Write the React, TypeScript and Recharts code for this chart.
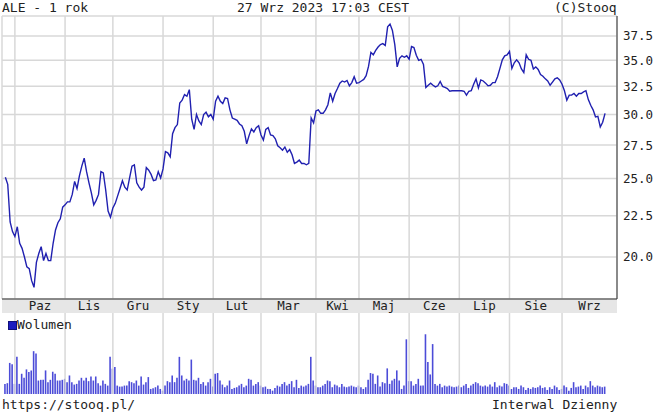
import { LineChart, Line, BarChart, Bar, XAxis, YAxis, CartesianGrid, ReferenceLine } from 'recharts'

// ALE daily close, 27.09.2022 - 27.09.2023 (one value per session)
const closes = [
  25.1, 24.6, 22.1, 21.5, 21.2, 21.8, 20.8, 20.5, 20.0, 19.45, 19.35, 18.7, 18.35, 19.7, 20.2, 20.6, 19.8, 20.2, 19.8, 19.8,
  20.8, 21.6, 22.05, 22.3, 23.05, 23.2, 23.4, 23.4, 23.9, 24.8, 24.3, 25.2, 25.9, 26.5, 25.5, 24.7, 24.0, 23.2, 23.5, 23.9,
  25.5, 25.4, 24.2, 22.8, 22.4, 23.0, 23.3, 23.8, 24.3, 24.85, 24.4, 24.2, 25.05, 25.9, 26.0, 24.7, 24.4, 24.2, 24.4, 25.8,
  25.6, 25.3, 24.85, 24.9, 25.5, 25.05, 25.7, 27.0, 26.9, 26.6, 28.4, 28.9, 29.15, 31.0, 31.25, 31.75, 31.6, 32.2, 29.6, 28.75,
  30.0, 29.45, 29.15, 30.0, 30.2, 29.8, 30.0, 29.6, 31.15, 31.6, 31.15, 30.95, 31.45, 31.4, 30.4, 29.7, 29.6, 29.5, 29.2, 29.05,
  28.6, 27.6, 28.25, 28.8, 28.55, 28.9, 29.05, 28.3, 27.9, 28.75, 28.9, 28.3, 28.25, 28.0, 27.45, 27.3, 27.1, 27.35, 26.95, 27.15,
  26.75, 26.1, 26.2, 26.35, 26.1, 26.1, 26.0, 26.1, 29.7, 29.3, 30.3, 30.4, 30.1, 30.1, 30.4, 30.85, 31.9, 31.15, 31.85, 32.3,
  32.8, 33.0, 32.9, 33.05, 32.55, 32.85, 33.4, 32.8, 32.85, 33.0, 33.15, 33.5, 34.4, 35.8, 35.55, 36.0, 36.35, 36.6, 36.7, 36.5,
  38.5, 38.8, 38.1, 36.6, 34.35, 35.2, 35.45, 35.3, 35.45, 35.1, 36.4, 36.3, 35.5, 35.0, 35.1, 34.6, 32.4, 32.6, 32.8, 32.6,
  32.45, 32.55, 32.95, 32.5, 32.4, 32.3, 32.05, 32.1, 32.1, 32.1, 32.1, 32.1, 32.05, 31.7, 32.05, 32.1, 32.7, 33.2, 32.35, 33.1,
  33.0, 32.8, 32.55, 32.6, 32.85, 32.85, 33.4, 34.2, 35.05, 35.45, 35.55, 35.9, 34.2, 34.75, 35.05, 34.75, 34.15, 33.8, 35.55, 35.1,
  35.0, 34.15, 34.35, 34.1, 33.6, 33.45, 33.2, 33.0, 32.6, 32.9, 33.2, 33.3, 33.1, 32.7, 32.1, 31.25, 31.7, 31.7, 31.85, 31.6,
  31.85, 31.85, 32.0, 32.1, 31.3, 30.8, 30.4, 29.8, 29.85, 28.95, 29.35, 30.1,
]

// session volume, thousands of shares
const volumes = [
  100, 107, 307, 293, 100, 367, 100, 200, 160, 243, 217, 233, 423, 400, 133, 140, 140, 233, 117, 140,
  220, 200, 133, 133, 140, 150, 117, 183, 117, 93, 100, 133, 160, 133, 160, 127, 173, 133, 173, 107,
  83, 133, 100, 83, 367, 250, 267, 83, 73, 73, 83, 83, 127, 117, 107, 133, 83, 173, 93, 117,
  167, 50, 57, 67, 83, 50, 33, 83, 127, 117, 183, 117, 160, 367, 183, 133, 150, 133, 340, 140,
  133, 160, 100, 117, 83, 117, 150, 73, 200, 207, 133, 93, 67, 83, 133, 50, 60, 67, 83, 100,
  67, 83, 150, 140, 83, 100, 117, 83, 67, 73, 50, 50, 33, 60, 83, 73, 100, 117, 83, 100,
  127, 67, 140, 60, 83, 73, 83, 100, 367, 133, 83, 67, 67, 83, 100, 133, 127, 67, 93, 83,
  67, 100, 73, 67, 73, 83, 73, 67, 83, 67, 50, 67, 140, 207, 200, 100, 183, 73, 117, 107,
  253, 100, 133, 150, 233, 133, 50, 83, 540, 127, 127, 83, 100, 150, 83, 83, 590, 317, 193, 493,
  100, 83, 100, 67, 83, 73, 83, 73, 67, 73, 83, 67, 83, 100, 60, 83, 100, 117, 107, 83,
  73, 83, 73, 93, 73, 117, 67, 83, 73, 107, 100, 83, 50, 67, 67, 50, 83, 67, 40, 60,
  50, 67, 60, 67, 83, 60, 67, 40, 67, 50, 83, 67, 40, 50, 83, 67, 33, 60, 117, 67,
  73, 83, 50, 83, 67, 127, 83, 67, 83, 73, 67, 73,
]

// first session of each month (index into closes)
const monthStarts = [4, 25, 45, 66, 87, 107, 130, 148, 169, 190, 211, 233]
const monthLabels = ['Paz', 'Lis', 'Gru', 'Sty', 'Lut', 'Mar', 'Kwi', 'Maj', 'Cze', 'Lip', 'Sie', 'Wrz']
const priceTicks = [20, 22.5, 25, 27.5, 30, 32.5, 35, 37.5]

const X_DOMAIN: [number, number] = [-1.4, 256]
const Y_DOMAIN: [number, number] = [17.75, 39.7]
const VOL_DOMAIN: [number, number] = [0, 800]

const monthMids = monthStarts.map((s, k) => (s + (monthStarts[k + 1] ?? X_DOMAIN[1])) / 2)

const data = closes.map((c, i) => ({ i, close: c, vol: volumes[i] }))

const mono = '"DejaVu Sans Mono", monospace'
const frame = '#333333'
const gridColor = '#d8d8d8'
const noLabel = () => ''

const textStyle: React.CSSProperties = {
  position: 'absolute',
  fontFamily: mono,
  fontSize: 13,
  lineHeight: '15px',
  color: '#222',
  whiteSpace: 'pre',
}

export default function App() {
  return (
    <div
      style={{
        position: 'absolute',
        left: 0,
        top: 0,
        width: 655,
        height: 414,
        background: '#fff',
        overflow: 'hidden',
      }}
    >
      <div style={{ ...textStyle, left: 2, top: 0 }}>ALE - 1 rok</div>
      <div style={{ ...textStyle, left: 237, top: 0 }}>27 Wrz 2023 17:03 CEST</div>
      <div style={{ ...textStyle, left: 554, top: 0 }}>(C)Stooq</div>

      {/* month band */}
      <div style={{ position: 'absolute', left: 2, top: 299, width: 615, height: 14, background: '#e6e6e6' }} />

      <div style={{ position: 'absolute', left: 0, top: 0 }}>
        <LineChart width={655} height={313} data={data} margin={{ top: 16, right: 0, bottom: 0, left: 2 }}>
          <CartesianGrid xAxisId="g" yAxisId="r" stroke={gridColor} strokeWidth={1.5} />
          <XAxis
            xAxisId="g"
            dataKey="i"
            type="number"
            domain={X_DOMAIN}
            allowDataOverflow
            ticks={monthStarts}
            interval={0}
            orientation="top"
            height={0}
            mirror
            tickFormatter={noLabel}
            tickSize={3}
            axisLine={{ stroke: frame }}
            tickLine={{ stroke: frame }}
          />
          <XAxis
            xAxisId="m"
            dataKey="i"
            type="number"
            domain={X_DOMAIN}
            allowDataOverflow
            ticks={monthMids}
            interval={0}
            height={14}
            tickLine={false}
            tickSize={0}
            tickMargin={2}
            axisLine={{ stroke: frame }}
            tick={{ fontSize: 12.5, fill: '#222', fontFamily: mono }}
            tickFormatter={(v: number) => monthLabels[monthMids.indexOf(v)] ?? ''}
          />
          <YAxis
            yAxisId="l"
            orientation="left"
            scale="log"
            domain={Y_DOMAIN}
            allowDataOverflow
            ticks={priceTicks}
            interval={0}
            width={0}
            mirror
            tickFormatter={noLabel}
            tickSize={3}
            axisLine={{ stroke: frame }}
            tickLine={{ stroke: frame }}
          />
          <YAxis
            yAxisId="rt"
            orientation="right"
            scale="log"
            domain={Y_DOMAIN}
            allowDataOverflow
            ticks={priceTicks}
            interval={0}
            width={0}
            mirror
            tickFormatter={noLabel}
            tickSize={3}
            axisLine={false}
            tickLine={{ stroke: frame }}
          />
          <YAxis
            yAxisId="r"
            orientation="right"
            scale="log"
            domain={Y_DOMAIN}
            allowDataOverflow
            ticks={priceTicks}
            interval={0}
            width={38}
            tickLine={false}
            tickSize={4}
            tickMargin={2}
            axisLine={{ stroke: frame }}
            tick={{ fontSize: 12.5, fill: '#222', fontFamily: mono }}
            tickFormatter={(v: number) => v.toFixed(1)}
          />
          <Line
            xAxisId="g"
            yAxisId="r"
            dataKey="close"
            type="linear"
            stroke="#2020b0"
            strokeWidth={1.4}
            dot={false}
            isAnimationActive={false}
          />
        </LineChart>
      </div>

      <div style={{ position: 'absolute', left: 0, top: 313 }}>
        <BarChart width={655} height={82} data={data} margin={{ top: 0, right: 38, bottom: 1, left: 2 }}>
          {monthStarts.map((s) => (
            <ReferenceLine key={s} xAxisId="g" yAxisId="v" x={s} stroke={gridColor} strokeWidth={1.5} />
          ))}
          <XAxis
            xAxisId="g"
            dataKey="i"
            type="number"
            domain={X_DOMAIN}
            allowDataOverflow
            ticks={monthStarts}
            interval={0}
            orientation="top"
            height={0}
            mirror
            tickFormatter={noLabel}
            tickSize={3}
            axisLine={{ stroke: frame }}
            tickLine={{ stroke: frame }}
          />
          <XAxis
            xAxisId="b"
            dataKey="i"
            type="number"
            domain={X_DOMAIN}
            allowDataOverflow
            height={0}
            tickFormatter={noLabel}
            tickLine={false}
            tickSize={0}
            axisLine={{ stroke: frame }}
          />
          <YAxis
            yAxisId="v"
            domain={VOL_DOMAIN}
            width={0}
            tickFormatter={noLabel}
            tickLine={false}
            tickSize={0}
            axisLine={{ stroke: frame }}
          />
          <YAxis
            yAxisId="vr"
            orientation="right"
            domain={VOL_DOMAIN}
            width={0}
            tickFormatter={noLabel}
            tickLine={false}
            tickSize={0}
            axisLine={{ stroke: frame }}
          />
          <Bar xAxisId="g" yAxisId="v" dataKey="vol" name="Wolumen" fill="#4c4cd8" barSize={1.6} isAnimationActive={false} />
        </BarChart>
      </div>

      {/* volume legend */}
      <div
        style={{
          position: 'absolute',
          left: 8,
          top: 321,
          width: 7,
          height: 7,
          background: '#1c1cc0',
          border: '1px solid #10107a',
        }}
      />
      <div style={{ ...textStyle, left: 17, top: 317 }}>Wolumen</div>

      <div style={{ ...textStyle, left: 2, top: 397 }}>https://stooq.pl/</div>
      <div style={{ ...textStyle, left: 492, top: 397 }}>Interwal Dzienny</div>
    </div>
  )
}
